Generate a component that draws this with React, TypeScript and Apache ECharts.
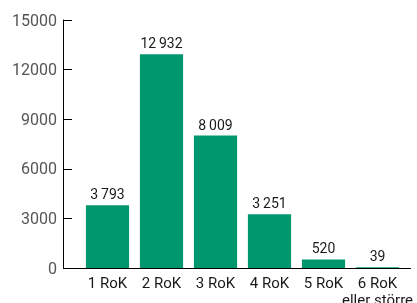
import React, { useEffect, useRef } from "react";
import * as echarts from "echarts";

const categories = ["1 RoK", "2 RoK", "3 RoK", "4 RoK", "5 RoK", "6 RoK\neller större"];
const values = [3793, 12932, 8009, 3251, 520, 39];
const yTicks = [0, 3000, 6000, 9000, 12000, 15000];

const fmt = (v: number) => {
  const s = String(Math.round(v));
  return s.replace(/\B(?=(\d{3})+(?!\d))/g, "\u2009");
};

export default function App() {
  const ref = useRef<HTMLDivElement>(null);
  useEffect(() => {
    if (!ref.current) return;
    document.body.style.margin = "0";
    document.body.style.overflow = "hidden";
    const chart = echarts.init(ref.current, undefined, { renderer: "svg" });
    const gridLeft = 80.5;
    const gridRight = 12.5;
    const gridTop = 20;
    const gridBottom = 35;
    chart.setOption({
      animation: false,
      textStyle: { fontFamily: "Roboto" },
      grid: {
        left: gridLeft,
        right: gridRight,
        top: gridTop,
        bottom: gridBottom,
        containLabel: false,
        outerBoundsMode: "none",
      },
      xAxis: {
        type: "category",
        data: categories,
        axisLine: { show: false },
        axisTick: { show: false },
        axisLabel: {
          color: "#1a1a1a",
          fontSize: 15,
          lineHeight: 17,
          margin: 6,
          interval: 0,
          fontFamily: "Roboto",
        },
      },
      yAxis: {
        type: "value",
        min: yTicks[0],
        max: yTicks[yTicks.length - 1],
        interval: 3000,
        offset: gridLeft - 63,
        axisLine: { show: true, lineStyle: { color: "#000", width: 1 } },
        axisTick: { show: true, inside: true, length: 9, lineStyle: { color: "#000" } },
        splitLine: { show: false },
        axisLabel: {
          color: "#555",
          fontSize: 16,
          margin: 6,
          fontFamily: "Roboto",
          formatter: (v: number) => String(v),
        },
      },
      series: [
        {
          type: "bar",
          data: values,
          barCategoryGap: "20%",
          itemStyle: { color: "#00976F" },
          label: {
            show: true,
            position: "top",
            distance: 4,
            color: "#1a1a1a",
            fontSize: 14,
            fontFamily: "Roboto",
            formatter: (p: any) => fmt(p.value),
          },
        },
      ],
      graphic: [
        {
          type: "line",
          shape: { x1: 63, y1: 303 - gridBottom + 0.5, x2: 411, y2: 303 - gridBottom + 0.5 },
          style: { stroke: "#000", lineWidth: 1 },
        },
      ],
    });
    return () => chart.dispose();
  }, []);
  return (
    <div style={{ position: "fixed", left: 0, top: 0, width: 417, height: 303, overflow: "hidden" }}>
      <div ref={ref} style={{ width: 417, height: 303 }} />
    </div>
  );
}
